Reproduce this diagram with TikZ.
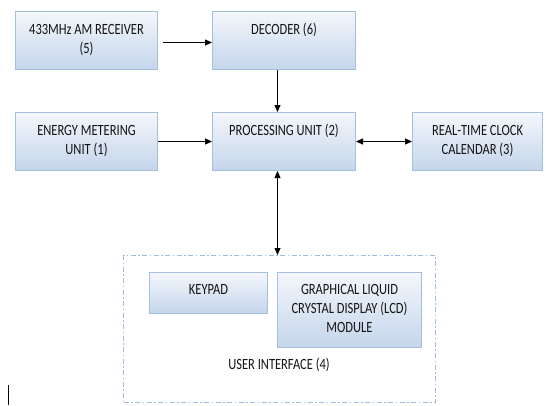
\documentclass[tikz,border=0pt]{standalone}
\usepackage{fontspec}
\setmainfont{Carlito}
\usetikzlibrary{arrows.meta}
\definecolor{boxborder}{HTML}{A3BEDF}
\definecolor{boxtop}{HTML}{F4F7FB}
\definecolor{boxbot}{HTML}{C4D5EB}
\definecolor{txt}{HTML}{141414}
\definecolor{uiline}{HTML}{9DBBE0}
\newcommand\tl[1]{\scalebox{1}[1.25]{\begin{tabular}{@{}c@{}}#1\end{tabular}}}
\tikzset{
  blk/.style={rectangle, draw=boxborder, line width=1pt, top color=boxtop, bottom color=boxbot, inner sep=0pt, anchor=north west},
  lbl/.style={anchor=north, inner sep=0pt, text=txt, font=\fontsize{12.5}{15.2}\selectfont},
  arr/.style={-{Triangle[length=7pt,width=6pt]}, line width=0.8pt, black},
  darr/.style={{Triangle[length=7pt,width=6pt]}-{Triangle[length=7pt,width=6pt]}, line width=0.8pt, black},
  uibox/.style={draw=uiline, line width=1pt, dash pattern=on 5pt off 2.5pt on 1.5pt off 2.5pt, inner sep=0pt, anchor=north west}
}
\begin{document}
\begin{tikzpicture}[x=1pt,y=-1pt]
\useasboundingbox[fill=white] (0,0) rectangle (546,405);
% user interface frame
\node[uibox, minimum width=312pt, minimum height=147pt] (ui) at (123,255) {};
% blocks
\node[blk, minimum width=142pt, minimum height=58pt] (rx) at (15,11) {};
\node[blk, minimum width=143pt, minimum height=58pt] (dec) at (212,11) {};
\node[blk, minimum width=142pt, minimum height=58pt] (em) at (15,112) {};
\node[blk, minimum width=143pt, minimum height=58pt] (pu) at (212,112) {};
\node[blk, minimum width=130pt, minimum height=58pt] (rtc) at (412,112) {};
\node[blk, minimum width=118pt, minimum height=41pt] (kp) at (149,272) {};
\node[blk, minimum width=144pt, minimum height=75pt] (lcd) at (277,272) {};
% labels
\node[lbl] (rxt) at ([yshift=-10pt]rx.north) {\tl{433MHz AM RECEIVER\\(5)}};
\node[lbl] (dect) at ([yshift=-10pt]dec.north) {\tl{DECODER (6)}};
\node[lbl] (emt) at ([yshift=-10pt]em.north) {\tl{ENERGY METERING\\UNIT (1)}};
\node[lbl] (put) at ([yshift=-10pt]pu.north) {\tl{PROCESSING UNIT (2)}};
\node[lbl] (rtct) at ([yshift=-10pt]rtc.north) {\tl{REAL-TIME CLOCK\\CALENDAR (3)}};
\node[lbl] (kpt) at ([yshift=-9pt]kp.north) {\tl{KEYPAD}};
\node[lbl] (lcdt) at ([yshift=-9pt]lcd.north) {\tl{GRAPHICAL LIQUID\\CRYSTAL DISPLAY (LCD)\\MODULE}};
\node[lbl, anchor=center] (uit) at (279,366) {\tl{USER INTERFACE (4)}};
% connectors
\draw[arr] ([xshift=5pt,yshift=-2pt]rx.east) -- ([yshift=-2pt]dec.west);
\draw[arr] ([xshift=-6.5pt]dec.south) -- ([xshift=-6.5pt]pu.north);
\draw[arr] (em.east) -- (pu.west);
\draw[darr] (pu.east) -- (rtc.west);
\draw[darr] ([xshift=-6.5pt]pu.south) -- ([xshift=-2pt]ui.north);
% cursor mark
\draw[line width=1pt, black] (8,385) -- (8,405);
\end{tikzpicture}
\end{document}
